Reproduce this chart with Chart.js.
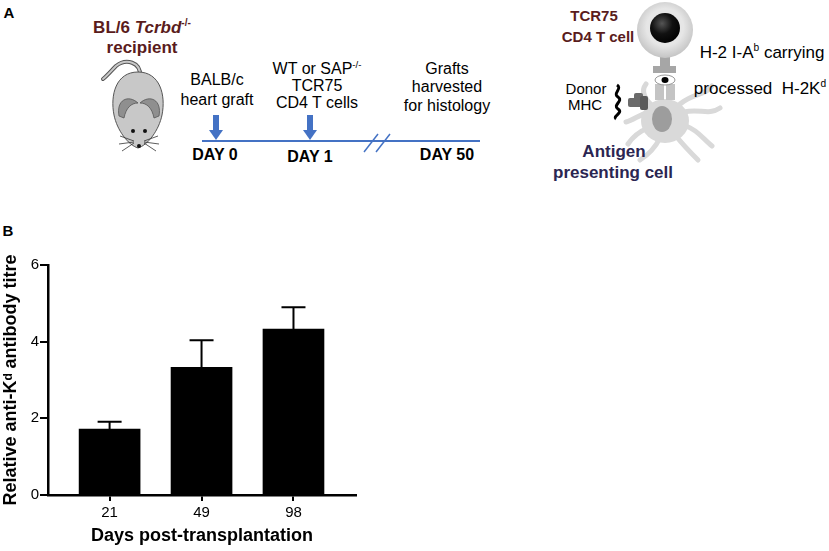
<!DOCTYPE html>
<html>
<head>
<meta charset="utf-8">
<script src="https://cdn.jsdelivr.net/npm/chart.js@4.4.1/dist/chart.umd.min.js"></script>
<style>
  html, body { margin: 0; padding: 0; background: #fff; }
  body { width: 829px; height: 551px; position: relative; overflow: hidden;
         font-family: "Liberation Sans", Arial, sans-serif; color: #000; }
  .t { position: absolute; white-space: nowrap; transform: translate(-50%, -50%); line-height: 1; }
  .b { font-weight: bold; }
  .brown { color: #5a1c1c; }
  .navy { color: #2b2652; }
  sup { font-size: 0.6em; line-height: 0; vertical-align: 0.65em; }
  #chartBox { position: absolute; left: 0; top: 240px; width: 400px; height: 311px; }
  svg { position: absolute; left: 0; top: 0; }
</style>
</head>
<body>

<svg width="829" height="240" viewBox="0 0 829 240">
  <!-- mouse -->
  <path d="M140,76 C141,62 126,58 116,66 C111,71 107,76 103,79" fill="none" stroke="#555" stroke-width="4" stroke-linecap="round"/>
  <path d="M140,76 C141,62 126,58 116,66 C111,71 107,76 103,79" fill="none" stroke="#c8c8c8" stroke-width="2" stroke-linecap="round"/>
  <path d="M138,72 C160,72 166,95 162,115 C159,130 148,145 138,148 C128,145 117,130 114,115 C110,95 116,72 138,72 Z" fill="#c8c8c8" stroke="#555" stroke-width="1"/>
  <path d="M119,116 C116,100 128,94 138,103 C131,103 126,108 124,118 Z" fill="#8f8f8f" stroke="#555" stroke-width="0.8"/>
  <path d="M159,116 C162,100 150,94 140,103 C147,103 152,108 154,118 Z" fill="#8f8f8f" stroke="#555" stroke-width="0.8"/>
  <circle cx="133" cy="131" r="2" fill="#111"/>
  <circle cx="145" cy="131" r="2" fill="#111"/>
  <circle cx="139" cy="146" r="2" fill="#111"/>
  <g stroke="#333" stroke-width="0.8" fill="none">
    <path d="M134,141 L120,136 M134,142 L119,144 M134,143 L122,151"/>
    <path d="M144,141 L158,136 M144,142 L159,144 M144,143 L156,151"/>
  </g>

  <!-- timeline -->
  <line x1="202" y1="141" x2="480" y2="141" stroke="#4472c4" stroke-width="2"/>
  <line x1="364" y1="152" x2="378" y2="134" stroke="#4472c4" stroke-width="1.5"/>
  <line x1="376" y1="152" x2="390" y2="134" stroke="#4472c4" stroke-width="1.5"/>
  <g fill="#4472c4">
    <rect x="213" y="115" width="6" height="16"/>
    <polygon points="209,130 223,130 216,140"/>
    <rect x="307" y="115" width="6" height="16"/>
    <polygon points="303,130 317,130 310,140"/>
  </g>

  <!-- antigen presenting cell -->
  <defs>
    <radialGradient id="tg" cx="0.5" cy="0.45" r="0.55">
      <stop offset="0.6" stop-color="#e6e6e6"/>
      <stop offset="1" stop-color="#c4c4c4"/>
    </radialGradient>
    <radialGradient id="bg" cx="0.4" cy="0.35" r="0.7">
      <stop offset="0" stop-color="#555"/>
      <stop offset="0.5" stop-color="#111"/>
      <stop offset="1" stop-color="#000"/>
    </radialGradient>
  </defs>
  <g fill="none" stroke="#d9d9d9" stroke-width="5" stroke-linecap="round">
    <path d="M655,108 C645,100 640,92 646,84"/>
    <path d="M680,104 C695,92 705,96 712,86"/>
    <path d="M684,112 C700,108 708,116 720,108"/>
    <path d="M648,128 C638,132 632,138 628,144"/>
    <path d="M660,138 C655,148 648,155 640,160"/>
    <path d="M676,136 C684,146 690,152 698,160"/>
    <path d="M686,126 C698,130 704,140 712,146"/>
    <path d="M650,112 C640,114 634,120 626,122"/>
  </g>
  <ellipse cx="665" cy="121" rx="24" ry="22" fill="#d9d9d9"/>
  <ellipse cx="662" cy="119" rx="10" ry="13" fill="#9d9d9d"/>
  <!-- MHC II -->
  <rect x="655" y="84" width="9" height="16" fill="#c4c4c4"/>
  <rect x="666" y="84" width="9" height="16" fill="#c4c4c4"/>
  <!-- peptide -->
  <ellipse cx="665" cy="80" rx="10" ry="5" fill="#fff" stroke="#999" stroke-width="1"/>
  <ellipse cx="665" cy="80" rx="3.5" ry="3" fill="#000"/>
  <!-- TCR -->
  <rect x="660" y="56" width="10" height="12" fill="#a6a6a6"/>
  <rect x="653" y="66" width="23" height="7" fill="#a6a6a6"/>
  <!-- T cell -->
  <circle cx="665" cy="30" r="28" fill="url(#tg)"/>
  <circle cx="665" cy="28" r="15" fill="url(#bg)"/>
  <!-- donor MHC -->
  <rect x="628" y="98" width="18" height="9" rx="2" fill="#6b6b6b"/>
  <rect x="634" y="93" width="9" height="7" rx="2" fill="#6b6b6b"/>
  <rect x="640" y="96" width="8" height="14" rx="2" fill="#5a5a5a"/>
  <path d="M617,85 C623,89 612,93 618,97 C624,101 612,105 618,109 C624,113 612,116 616,119" fill="none" stroke="#000" stroke-width="3"/>
</svg>

<div class="t b" style="left:9px; top:12px; font-size:15px;">A</div>
<div class="t b brown" style="left:142px; top:27px; font-size:17px;">BL/6 <i>Tcrbd</i><sup>-/-</sup></div>
<div class="t b brown" style="left:142px; top:47px; font-size:17px;">recipient</div>

<div class="t" style="left:217px; top:80px; font-size:16px;">BALB/c</div>
<div class="t" style="left:217px; top:100px; font-size:16px;">heart graft</div>
<div class="t" style="left:317px; top:69px; font-size:16px;">WT or SAP<sup>-/-</sup></div>
<div class="t" style="left:317px; top:86px; font-size:16px;">TCR75</div>
<div class="t" style="left:317px; top:103px; font-size:16px;">CD4 T cells</div>
<div class="t" style="left:447px; top:69px; font-size:16px;">Grafts</div>
<div class="t" style="left:447px; top:87px; font-size:16px;">harvested</div>
<div class="t" style="left:447px; top:106px; font-size:16px;">for histology</div>
<div class="t b" style="left:215px; top:155px; font-size:16px;">DAY 0</div>
<div class="t b" style="left:310px; top:157px; font-size:16px;">DAY 1</div>
<div class="t b" style="left:447px; top:155px; font-size:16px;">DAY 50</div>

<div class="t b brown" style="left:594px; top:15px; font-size:15px;">TCR75</div>
<div class="t b brown" style="left:598px; top:36px; font-size:15px;">CD4 T cell</div>
<div class="t" style="left:762px; top:52px; font-size:17px;">H-2 I-A<sup>b</sup> carrying</div>
<div class="t" style="left:760px; top:88px; font-size:17px;">processed&nbsp; H-2K<sup>d</sup></div>
<div class="t" style="left:586px; top:88px; font-size:15px;">Donor</div>
<div class="t" style="left:585px; top:104px; font-size:15px;">MHC</div>
<div class="t b navy" style="left:614px; top:151px; font-size:17px;">Antigen</div>
<div class="t b navy" style="left:613px; top:172px; font-size:17px;">presenting cell</div>

<div class="t b" style="left:8px; top:230px; font-size:15px;">B</div>

<div id="chartBox"><canvas id="c"></canvas></div>

<script>
// days post-transplantation
const categories = ['21', '49', '98'];
// mean relative anti-Kd titre and upper error (SEM)
const means = [1.72, 3.33, 4.33];
const sem = [0.19, 0.71, 0.57];
const yTicks = [0, 2, 4, 6];

const errorBars = {
  id: 'errorBars',
  afterDatasetsDraw(chart) {
    const ctx = chart.ctx;
    const y = chart.scales.y;
    chart.getDatasetMeta(0).data.forEach((bar, i) => {
      const top = y.getPixelForValue(means[i] + sem[i]);
      ctx.save();
      ctx.strokeStyle = '#000';
      ctx.lineWidth = 2;
      ctx.beginPath();
      ctx.moveTo(bar.x, bar.y);
      ctx.lineTo(bar.x, top);
      ctx.moveTo(bar.x - 12, top);
      ctx.lineTo(bar.x + 12, top);
      ctx.stroke();
      ctx.restore();
    });
  }
};

new Chart(document.getElementById('c'), {
  type: 'bar',
  data: {
    datasets: [{
      data: means.map((m, i) => ({ x: i, y: m })),
      backgroundColor: '#000',
      borderWidth: 0,
      barThickness: 61
    }]
  },
  options: {
    responsive: true,
    maintainAspectRatio: false,
    animation: false,
    layout: { padding: { top: 25, right: 44, left: 0, bottom: 0 } },
    plugins: { legend: { display: false }, tooltip: { enabled: false } },
    scales: {
      x: {
        type: 'linear',
        offset: false,
        min: -0.67,
        max: 2.68,
        afterBuildTicks: s => { s.ticks = categories.map((c, i) => ({ value: i })); },
        afterFit: s => { s.height = 56; },
        ticks: {
          callback: v => categories[v],
          color: '#000',
          font: { size: 15, family: '"Liberation Sans", Arial, sans-serif' },
          padding: 3,
          maxRotation: 0
        },
        grid: { offset: false, drawOnChartArea: false, drawTicks: true, tickLength: 6, color: '#000', lineWidth: 2 },
        border: { display: true, color: '#000', width: 2.5 },
        title: {
          display: true,
          text: 'Days post-transplantation',
          color: '#000',
          font: { size: 18, weight: 'bold', family: '"Liberation Sans", Arial, sans-serif' },
          padding: { top: 0, bottom: 4 }
        }
      },
      y: {
        min: 0,
        max: 6,
        afterBuildTicks: s => { s.ticks = yTicks.map(v => ({ value: v })); },
        afterFit: s => { s.width = 48; },
        ticks: {
          color: '#000',
          font: { size: 15, family: '"Liberation Sans", Arial, sans-serif' },
          padding: 1
        },
        grid: { drawOnChartArea: false, drawTicks: true, tickLength: 8, color: '#000', lineWidth: 2 },
        border: { display: true, color: '#000', width: 2.5 },
        title: {
          display: true,
          text: 'Relative anti-Kᵈ antibody titre',
          color: '#000',
          font: { size: 18, weight: 'bold', family: '"Liberation Sans", Arial, sans-serif' },
          padding: { top: 0, bottom: 0 }
        }
      }
    }
  },
  plugins: [errorBars]
});
</script>
</body>
</html>
